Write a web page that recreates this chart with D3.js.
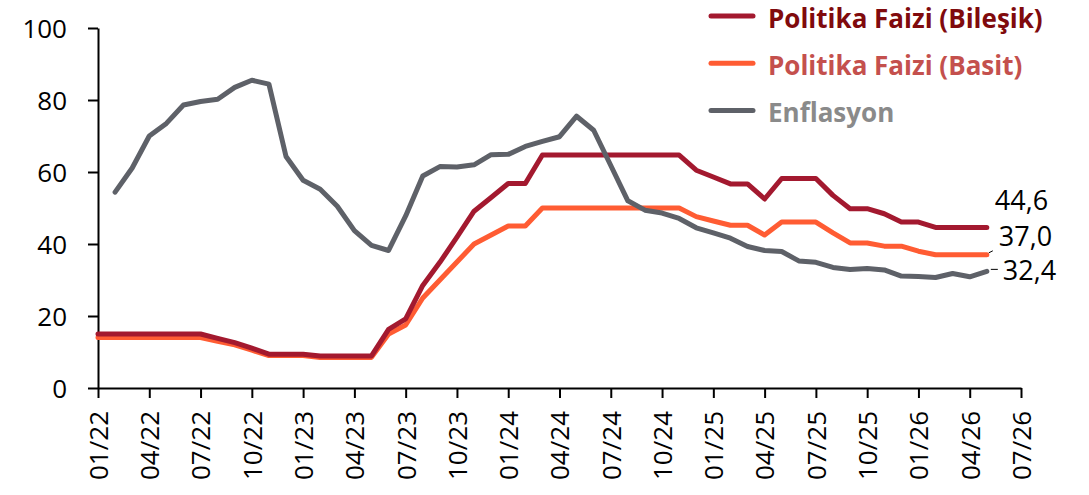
<!DOCTYPE html>
<html>
<head>
<meta charset="utf-8">
<script src="https://cdn.jsdelivr.net/npm/d3@7"></script>
<style>
  html, body { margin: 0; padding: 0; background: #fff; }
  svg { display: block; }
</style>
</head>
<body>
<svg id="chart" width="1089" height="495"></svg>
<script>
// ---- Data ----
const months = [
  "01/22","02/22","03/22","04/22","05/22","06/22","07/22","08/22","09/22","10/22","11/22","12/22",
  "01/23","02/23","03/23","04/23","05/23","06/23","07/23","08/23","09/23","10/23","11/23","12/23",
  "01/24","02/24","03/24","04/24","05/24","06/24","07/24","08/24","09/24","10/24","11/24","12/24",
  "01/25","02/25","03/25","04/25","05/25","06/25","07/25","08/25","09/25","10/25","11/25","12/25",
  "01/26","02/26","03/26","04/26","05/26","06/26","07/26"
];
const xTickLabels = months.filter((m, i) => i % 3 === 0);
const yTicks = [0, 20, 40, 60, 80, 100];

const seriesNames = ["Politika Faizi (Bileşik)", "Politika Faizi (Basit)", "Enflasyon"];

const bilesik = [
  15.0, 15.0, 15.0, 15.0, 15.0, 15.0, 15.0, 13.8, 12.6, 11.1, 9.4, 9.4,
  9.4, 8.9, 8.9, 8.9, 8.9, 16.3, 19.2, 28.5, 34.9, 41.9, 49.1, 52.9,
  56.8, 56.8, 64.7, 64.7, 64.7, 64.7, 64.7, 64.7, 64.7, 64.7, 64.7, 60.5,
  58.6, 56.7, 56.7, 52.5, 58.2, 58.2, 58.2, 53.5, 49.8, 49.8, 48.4, 46.1,
  46.1, 44.6, 44.6, 44.6, 44.6
];
const basit = [
  14.0, 14.0, 14.0, 14.0, 14.0, 14.0, 14.0, 13.0, 12.0, 10.5, 9.0, 9.0,
  9.0, 8.5, 8.5, 8.5, 8.5, 15.0, 17.5, 25.0, 30.0, 35.0, 40.0, 42.5,
  45.0, 45.0, 50.0, 50.0, 50.0, 50.0, 50.0, 50.0, 50.0, 50.0, 50.0, 47.6,
  46.4, 45.2, 45.2, 42.5, 46.1, 46.1, 46.1, 43.1, 40.3, 40.3, 39.4, 39.4,
  38.0, 37.0, 37.0, 37.0, 37.0
];
const enflasyon = [
  null, 54.4, 61.1, 70.0, 73.5, 78.6, 79.6, 80.2, 83.5, 85.5, 84.4, 64.3,
  57.7, 55.2, 50.5, 43.7, 39.6, 38.2, 47.8, 58.9, 61.5, 61.4, 62.0, 64.8,
  64.9, 67.1, 68.5, 69.8, 75.5, 71.6, 61.8, 52.0, 49.4, 48.6, 47.1, 44.5,
  43.1, 41.6, 39.3, 38.2, 37.9, 35.3, 34.9, 33.5, 32.9, 33.2, 32.8, 31.1,
  31.0, 30.7, 31.8, 30.9, 32.4
];
const endLabels = ["44,6", "37,0", "32,4"];

// ---- Styles ----
const lineColors = ["#a3192f", "#ff5c33", "#5e6168"];
const legendTextColors = ["#800a0d", "#c4504d", "#8a8a8a"];
const FONT = "'Open Sans', 'Liberation Sans', sans-serif";

const svg = d3.select("#chart");
const plotLeft = 98, plotRight = 1021, plotTop = 28, plotBottom = 388;

const x = d3.scalePoint().domain(months).range([plotLeft, plotRight]);
const y = d3.scaleLinear().domain([0, 100]).range([plotBottom, plotTop]);

// ---- Axes ----
const yAxis = svg.append("g")
  .attr("transform", `translate(${plotLeft},0)`)
  .call(d3.axisLeft(y).tickValues(yTicks).tickSize(10).tickPadding(21).tickSizeOuter(0));
yAxis.select(".domain").attr("stroke", "#000").attr("stroke-width", 2);
yAxis.selectAll(".tick line").attr("stroke", "#000").attr("stroke-width", 2);
yAxis.selectAll(".tick text")
  .attr("fill", "#000").style("font-family", FONT).style("font-size", "26px").attr("dy", "0.36em");

const xAxis = svg.append("g")
  .attr("transform", `translate(0,${plotBottom})`)
  .call(d3.axisBottom(x).tickValues(xTickLabels).tickSize(10).tickSizeOuter(0));
xAxis.select(".domain").attr("stroke", "#000").attr("stroke-width", 2);
xAxis.selectAll(".tick line").attr("stroke", "#000").attr("stroke-width", 2);
xAxis.selectAll(".tick text")
  .attr("fill", "#000").style("font-family", FONT).style("font-size", "26px")
  .attr("transform", "rotate(-90)")
  .attr("text-anchor", "end")
  .attr("x", -23).attr("y", 0).attr("dy", "0.36em");

// ---- Lines ----
const allSeries = [bilesik, basit, enflasyon];
const line = d3.line()
  .defined(d => d != null)
  .x((d, i) => x(months[i]))
  .y(d => y(d));

const drawOrder = [1, 0, 2];
drawOrder.forEach(k => {
  svg.append("path")
    .datum(allSeries[k])
    .attr("fill", "none")
    .attr("stroke", lineColors[k])
    .attr("stroke-width", 5)
    .attr("stroke-linejoin", "round")
    .attr("stroke-linecap", "round")
    .attr("d", line);
});

// ---- End labels ----
const labelOffsets = [[8, -17], [12, -9], [16, 9]];
allSeries.forEach((s, k) => {
  const i = s.length - 1;
  const px = x(months[i]), py = y(s[i]);
  svg.append("text")
    .attr("x", px + labelOffsets[k][0]).attr("y", py + labelOffsets[k][1])
    .attr("fill", "#000").style("font-family", FONT).style("font-size", "27px")
    .text(endLabels[k]);
});
// leader lines
{
  const i = basit.length - 1;
  const px = x(months[i]), py = y(basit[i]);
  svg.append("line").attr("x1", px + 2).attr("y1", py - 2).attr("x2", px + 6).attr("y2", py - 4)
    .attr("stroke", "#000").attr("stroke-width", 1);
  const j = enflasyon.length - 1;
  const qx = x(months[j]), qy = y(enflasyon[j]);
  svg.append("line").attr("x1", qx + 4).attr("y1", qy - 2).attr("x2", qx + 11).attr("y2", qy - 2)
    .attr("stroke", "#000").attr("stroke-width", 1);
}

// ---- Legend ----
const legend = svg.append("g").attr("transform", "translate(711,16)");
seriesNames.forEach((name, k) => {
  const g = legend.append("g").attr("transform", `translate(0,${k * 47.3})`);
  g.append("line").attr("x1", 0).attr("x2", 42).attr("y1", 0).attr("y2", 0)
    .attr("stroke", lineColors[k]).attr("stroke-width", 5).attr("stroke-linecap", "round");
  g.append("text").attr("x", 57).attr("y", 11.5)
    .attr("fill", legendTextColors[k])
    .style("font-family", FONT).style("font-size", "26px").style("font-weight", "700")
    .text(name);
});
</script>
</body>
</html>
